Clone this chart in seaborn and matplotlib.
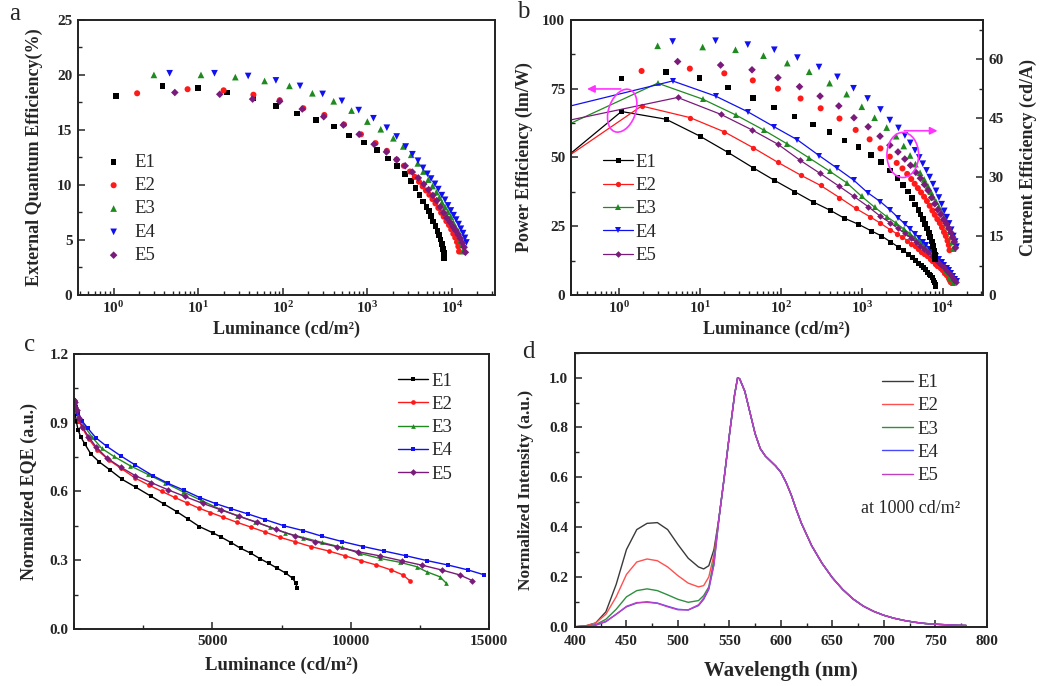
import matplotlib
matplotlib.use("Agg")
import matplotlib.pyplot as plt
import seaborn as sns
import numpy as np
from matplotlib.patches import Ellipse
from matplotlib.ticker import MultipleLocator, NullFormatter, LogLocator

sns.set_style("ticks")
plt.rcParams['font.family'] = ['Liberation Serif', 'DejaVu Serif']
plt.rcParams['mathtext.fontset'] = 'custom'
plt.rcParams['mathtext.rm'] = 'Liberation Serif'
plt.rcParams['mathtext.bf'] = 'Liberation Serif:bold'
plt.rcParams['mathtext.it'] = 'Liberation Serif:italic'

devices = ["E1", "E2", "E3", "E4", "E5"]

# ---------------- device data (luminance cd/m2, EQE %, CE cd/A, PE lm/W) ----------------
lum_E1 = [1.07, 3.8, 9.9, 22, 45, 83, 147, 247, 400, 610, 910, 1290, 1740, 2240, 2770, 3250, 3710,
          4130, 4530, 5010, 5330, 5680, 6020, 6400, 6720, 7030, 7340, 7660, 7900, 8020, 8060]
eqe_E1 = [18.1, 19.0, 18.8, 18.4, 17.85, 17.2, 16.5, 15.9, 15.3, 14.5, 13.85, 13.2, 12.4, 11.74, 11.02,
          10.36, 9.73, 9.10, 8.49, 7.98, 7.6, 7.16, 6.69, 6.27, 5.83, 5.45, 5.04, 4.62, 4.20, 3.80, 3.36]
ce_E1 = [55.1, 56.8, 55.3, 52.8, 50.2, 47.7, 45.4, 43.4, 41.4, 39.3, 37.6, 35.7, 33.9, 31.7, 29.8, 28.0,
         26.3, 24.6, 23.0, 21.6, 20.5, 19.3, 18.1, 16.9, 15.7, 14.7, 13.6, 12.5, 11.3, 10.3, 9.1]
pe_E1 = [66.7, 63.9, 57.8, 51.9, 46.3, 41.7, 37.6, 33.9, 30.9, 27.9, 25.7, 23.4, 21.5, 19.4, 17.6, 16.2,
         15.0, 13.9, 12.8, 11.6, 10.9, 10.1, 9.3, 8.5, 7.8, 7.1, 6.4, 5.6, 4.8, 4.1, 3.4]

lum_E2 = [1.9, 7.5, 20, 45, 92, 175, 310, 530, 840, 1250, 1700, 2220, 2700, 3180, 3640, 4080, 4500,
          4930, 5400, 5880, 6380, 6900, 7440, 7980, 8580, 9210, 9790, 10370, 10930, 11470, 11890, 12130]
eqe_E2 = [18.33, 18.7, 18.6, 18.2, 17.7, 16.97, 16.36, 15.5, 14.6, 13.8, 13.1, 12.3, 11.74, 11.22, 10.73,
          10.29, 9.87, 9.50, 9.11, 8.71, 8.32, 7.91, 7.48, 7.12, 6.71, 6.36, 5.97, 5.57, 5.22, 4.81, 4.41, 3.95]
ce_E2 = [57.0, 57.6, 56.4, 54.6, 52.5, 50.0, 47.5, 44.9, 42.0, 39.6, 37.3, 35.2, 33.6, 32.2, 30.8, 29.5,
         28.3, 27.2, 26.1, 25.0, 23.9, 22.7, 21.5, 20.4, 19.3, 18.3, 17.2, 16.0, 15.0, 13.8, 12.7, 11.4]
pe_E2 = [68.7, 64.5, 59.3, 53.6, 48.2, 43.6, 39.8, 35.4, 31.5, 28.5, 26.1, 23.8, 22.3, 21.0, 19.8, 18.7,
         17.7, 16.8, 15.8, 14.9, 14.0, 13.1, 12.2, 11.4, 10.5, 9.7, 8.9, 8.0, 7.2, 6.3, 5.5, 4.6]

lum_E3 = [3.0, 10.8, 27.5, 61, 120, 224, 400, 650, 1000, 1440, 2030, 2660, 3300, 3950, 4600, 5250, 5900,
          6550, 7100, 7620, 8280, 8950, 9670, 10330, 11050, 11780, 12380, 12740, 13220, 13460]
eqe_E3 = [20.0, 20.0, 19.8, 19.45, 19.0, 18.33, 17.6, 16.76, 15.76, 15.06, 14.24, 13.5, 12.74, 11.96,
          11.22, 10.48, 9.9, 9.34, 8.86, 8.4, 7.98, 7.56, 7.12, 6.6, 6.16, 5.82, 5.44, 5.0, 4.56, 3.98]
ce_E3 = [63.4, 63.1, 62.4, 60.9, 59.0, 56.8, 53.9, 51.1, 47.9, 45.1, 42.6, 40.4, 37.9, 35.5, 33.3, 31.1,
         29.4, 27.7, 26.3, 24.9, 23.7, 22.4, 21.1, 19.6, 18.3, 17.3, 16.1, 14.8, 13.5, 11.8]
pe_E3 = [77.0, 71.2, 65.5, 60.0, 54.9, 49.8, 45.0, 40.8, 35.8, 31.9, 28.5, 26.1, 24.0, 22.3, 20.7, 19.2,
         17.9, 16.6, 15.5, 14.5, 13.3, 12.2, 11.1, 10.0, 8.9, 7.9, 6.9, 6.1, 5.2, 4.3]

lum_E4 = [4.6, 15.6, 39, 83, 160, 296, 500, 790, 1180, 1700, 2220, 2840, 3410, 3970, 4550, 5130, 5670,
          6300, 6900, 7590, 8280, 8980, 9700, 10450, 11210, 11990, 12740, 13520, 14240, 14810]
eqe_E4 = [20.15, 20.15, 19.9, 19.5, 19.0, 18.27, 17.64, 16.8, 16.06, 15.2, 14.4, 13.49, 12.79, 12.2,
          11.55, 11.01, 10.58, 10.1, 9.62, 9.07, 8.65, 8.14, 7.68, 7.25, 6.85, 6.44, 6.02, 5.62, 5.19, 4.77]
ce_E4 = [64.5, 64.7, 63.7, 62.4, 60.4, 58.0, 55.5, 52.6, 50.0, 47.2, 44.5, 42.5, 40.6, 38.7, 36.8, 35.0,
         33.4, 31.7, 30.0, 28.2, 26.5, 24.8, 23.1, 21.4, 19.8, 18.2, 16.6, 15.0, 13.6, 12.3]
pe_E4 = [77.8, 72.3, 66.6, 61.1, 56.4, 50.7, 46.0, 41.8, 37.2, 33.9, 31.0, 28.0, 25.8, 24.0, 22.2, 20.7,
         19.4, 18.0, 16.8, 15.5, 14.3, 13.1, 12.0, 10.9, 9.9, 8.9, 7.9, 6.9, 5.9, 5.0]

lum_E5 = [5.3, 18, 44, 92, 170, 305, 520, 800, 1200, 1680, 2220, 2800, 3400, 4000, 4650, 5300, 5950,
          6600, 7300, 7980, 8700, 9490, 10270, 11050, 11840, 12560, 13300, 13940, 14400]
eqe_E5 = [18.4, 18.24, 17.8, 17.6, 16.9, 16.2, 15.45, 14.6, 13.7, 13.0, 12.3, 11.74, 11.17, 10.64, 10.08,
          9.57, 9.05, 8.57, 8.0, 7.47, 7.01, 6.61, 6.2, 5.87, 5.48, 5.13, 4.73, 4.34, 3.88]
ce_E5 = [59.4, 58.5, 57.3, 55.3, 53.0, 50.6, 48.1, 45.1, 42.8, 40.4, 38.1, 36.4, 34.6, 33.0, 31.2, 29.7,
         28.1, 26.6, 24.8, 23.2, 21.7, 20.5, 19.2, 18.2, 17.0, 15.9, 14.7, 13.5, 12.0]
pe_E5 = [71.8, 65.7, 60.0, 54.8, 49.1, 44.2, 39.6, 35.8, 32.1, 28.7, 26.3, 24.2, 22.4, 20.8, 19.3, 17.9,
         16.6, 15.5, 14.3, 13.2, 12.1, 11.0, 10.0, 9.0, 8.1, 7.2, 6.3, 5.5, 4.8]

# lowest-luminance power-efficiency points (below the plotted range, the lines enter from the left edge)
pe_lead_lum = 0.2
pe_lead = {"E1": 49.0, "E2": 49.0, "E3": 61.0, "E4": 68.0, "E5": 63.0}

# ---------------- EL spectra at 1000 cd/m2 ----------------
wavelength = [400, 410, 420, 430, 440, 450, 460, 470, 480, 490, 500, 510, 520, 525, 530, 535, 540,
              545, 550, 555, 558, 560, 565, 570, 575, 580, 585, 590, 595, 600, 605, 610, 615, 620,
              630, 640, 650, 660, 670, 680, 690, 700, 710, 720, 730, 740, 750, 760, 770, 780]
blue_E1 = [0.0, 0.003, 0.015, 0.06, 0.17, 0.31, 0.39, 0.415, 0.418, 0.39, 0.33, 0.275, 0.24, 0.232, 0.245, 0.31, 0.44]
blue_E2 = [0.0, 0.003, 0.015, 0.05, 0.12, 0.21, 0.26, 0.272, 0.265, 0.24, 0.205, 0.175, 0.16, 0.165, 0.20, 0.29, 0.44]
blue_E3 = [0.0, 0.002, 0.008, 0.03, 0.07, 0.12, 0.145, 0.152, 0.145, 0.128, 0.11, 0.098, 0.105, 0.125, 0.16, 0.27, 0.44]
blue_E4 = [0.0, 0.002, 0.006, 0.02, 0.05, 0.08, 0.095, 0.10, 0.095, 0.082, 0.07, 0.067, 0.085, 0.11, 0.15, 0.25, 0.44]
blue_E5 = [0.0, 0.002, 0.007, 0.022, 0.05, 0.082, 0.097, 0.098, 0.094, 0.08, 0.068, 0.068, 0.088, 0.115, 0.155, 0.25, 0.44]
yellow_band = [0.60, 0.77, 0.93, 1.0, 0.995, 0.945, 0.86, 0.775, 0.715, 0.685, 0.665, 0.645, 0.62, 0.58,
               0.53, 0.47, 0.415, 0.325, 0.255, 0.197, 0.15, 0.112, 0.083, 0.062, 0.046, 0.034, 0.025,
               0.018, 0.013, 0.01, 0.008, 0.006, 0.005]

data = {
    "E1": (lum_E1, eqe_E1, ce_E1, pe_E1, blue_E1),
    "E2": (lum_E2, eqe_E2, ce_E2, pe_E2, blue_E2),
    "E3": (lum_E3, eqe_E3, ce_E3, pe_E3, blue_E3),
    "E4": (lum_E4, eqe_E4, ce_E4, pe_E4, blue_E4),
    "E5": (lum_E5, eqe_E5, ce_E5, pe_E5, blue_E5),
}

colors = {"E1": "#000000", "E2": "#ff1a1a", "E3": "#1f8a1f", "E4": "#1010f0", "E5": "#7a1a7a"}
spec_colors = {"E1": "#3a3a3a", "E2": "#ff5050", "E3": "#2f8f3f", "E4": "#4848ff", "E5": "#c040c0"}
mk_ab = {"E1": "s", "E2": "o", "E3": "^", "E4": "v", "E5": "D"}
mk_c = {"E1": "s", "E2": "o", "E3": "^", "E4": "s", "E5": "D"}
sz_ab = {"E1": 17, "E2": 19, "E3": 23, "E4": 23, "E5": 15}
ms_line = {"E1": 3.6, "E2": 3.8, "E3": 4.2, "E4": 4.2, "E5": 3.4}

TICK_FS = 11
LAB_FS = 13
LEG_FS = 13.5
MAG = "#ff33ff"

fig = plt.figure(figsize=(10.47, 6.86), dpi=100)
axA = fig.add_axes([0.0745, 0.570, 0.398, 0.401])
axB = fig.add_axes([0.5451, 0.570, 0.3935, 0.401])
axC = fig.add_axes([0.0707, 0.0831, 0.3964, 0.401])
axD = fig.add_axes([0.5492, 0.0864, 0.3932, 0.3994])


def frame(ax):
    ax.tick_params(which='both', direction='in', top=False, right=False)
    ax.tick_params(which='major', length=5, width=1.1, pad=4)
    ax.tick_params(which='minor', length=3, width=1.0)
    for sp in ax.spines.values():
        sp.set_visible(True)
        sp.set_linewidth(1.4)
        sp.set_color('#222222')


log_ticks = [1, 10, 100, 1000, 10000]
log_labels = [r'$\mathbf{10^{%d}}$' % i for i in range(5)]

# ---------------- panel a ----------------
for d in devices:
    lum, eqe, ce, pe, _ = data[d]
    sns.scatterplot(x=lum, y=eqe, ax=axA, marker=mk_ab[d], s=sz_ab[d], color=colors[d],
                    edgecolor='none', label=d, zorder=3)
axA.set_xscale('log')
axA.set_xlim(0.38, 3.2e4)
axA.set_ylim(0, 25)
frame(axA)
axA.set_xticks(log_ticks, labels=log_labels, fontsize=TICK_FS)
axA.xaxis.set_minor_locator(LogLocator(base=10, subs=np.arange(2, 10)))
axA.xaxis.set_minor_formatter(NullFormatter())
axA.set_yticks([0, 5, 10, 15, 20, 25], labels=['0', '5', '10', '15', '20', '25'],
               fontsize=TICK_FS, fontweight='bold')
axA.yaxis.set_minor_locator(MultipleLocator(2.5))
axA.set_ylabel('External Quantum Efficiency(%)', fontsize=LAB_FS, fontweight='bold')
axA.set_xlabel('Luminance (cd/m²)', fontsize=LAB_FS, fontweight='bold')
axA.yaxis.set_label_coords(-0.084, 0.5)
axA.xaxis.set_label_coords(0.5, -0.095)
axA.legend(loc='lower left', bbox_to_anchor=(0.045, 0.085), frameon=False, fontsize=LEG_FS,
           handletextpad=0.6, labelspacing=0.33, borderaxespad=0, markerscale=1.0, handlelength=1.0)

# ---------------- panel b ----------------
axB2 = axB.twinx()
for d in devices:
    lum, eqe, ce, pe, _ = data[d]
    lum_line = [pe_lead_lum] + list(lum)
    pe_line = [pe_lead[d]] + list(pe)
    sns.lineplot(x=lum_line, y=pe_line, ax=axB, color=colors[d], marker=mk_ab[d],
                 markersize=ms_line[d], markeredgewidth=0, linewidth=0.9, label=d,
                 sort=False, estimator=None)
    sns.scatterplot(x=lum, y=ce, ax=axB2, marker=mk_ab[d], s=sz_ab[d], color=colors[d],
                    edgecolor='none', zorder=3, legend=False)
for a in (axB, axB2):
    a.set_xscale('log')
    a.set_xlim(0.253, 3.12e4)
axB.set_ylim(0, 100)
axB2.set_ylim(0, 70)
frame(axB)
axB2.tick_params(which='both', direction='in', right=True, left=False, top=False)
axB2.tick_params(which='major', length=5, width=1.1, pad=4)
axB2.tick_params(which='minor', length=3, width=1.0)
for sp in axB2.spines.values():
    sp.set_linewidth(1.4)
    sp.set_color('#222222')
axB.set_xticks(log_ticks, labels=log_labels, fontsize=TICK_FS)
axB.xaxis.set_minor_locator(LogLocator(base=10, subs=np.arange(2, 10)))
axB.xaxis.set_minor_formatter(NullFormatter())
axB.set_yticks([0, 25, 50, 75, 100], labels=['0', '25', '50', '75', '100'],
               fontsize=TICK_FS, fontweight='bold')
axB.yaxis.set_minor_locator(MultipleLocator(12.5))
axB2.set_yticks([0, 15, 30, 45, 60], labels=['0', '15', '30', '45', '60'],
                fontsize=TICK_FS, fontweight='bold')
axB2.yaxis.set_minor_locator(MultipleLocator(7.5))
axB.set_ylabel('Power Efficiency (lm/W)', fontsize=LAB_FS, fontweight='bold')
axB2.set_ylabel('Current Efficiency (cd/A)', fontsize=LAB_FS, fontweight='bold')
axB.set_xlabel('Luminance (cd/m²)', fontsize=LAB_FS, fontweight='bold')
axB.yaxis.set_label_coords(-0.092, 0.5)
axB2.yaxis.set_label_coords(1.09, 0.5)
axB.xaxis.set_label_coords(0.5, -0.095)
axB.legend(loc='lower left', bbox_to_anchor=(0.06, 0.085), frameon=False, fontsize=LEG_FS,
           handletextpad=0.15, labelspacing=0.33, borderaxespad=0, handlelength=1.6)
# annotations: ellipses with arrows
axB2.add_patch(Ellipse((0.125, 0.670), 0.067, 0.158, angle=-10, transform=axB2.transAxes,
                       fill=False, ec=MAG, lw=1.2, zorder=5))
axB2.annotate('', xy=(0.033, 0.749), xytext=(0.128, 0.749), xycoords='axes fraction',
              arrowprops=dict(arrowstyle='-|>', color=MAG, lw=1.2, mutation_scale=11))
axB2.add_patch(Ellipse((0.806, 0.509), 0.077, 0.164, angle=0, transform=axB2.transAxes,
                       fill=False, ec=MAG, lw=1.2, zorder=5))
axB2.annotate('', xy=(0.897, 0.597), xytext=(0.803, 0.597), xycoords='axes fraction',
              arrowprops=dict(arrowstyle='-|>', color=MAG, lw=1.2, mutation_scale=11))

# ---------------- panel c ----------------
for d in devices:
    lum, eqe, ce, pe, _ = data[d]
    eqe_arr = np.array(eqe)
    sns.lineplot(x=lum, y=eqe_arr / eqe_arr.max(), ax=axC, color=colors[d], marker=mk_c[d],
                 markersize=3.4, markeredgewidth=0, linewidth=1.0, label=d, sort=False, estimator=None)
axC.set_xlim(0, 15000)
axC.set_ylim(0, 1.2)
frame(axC)
axC.set_xticks([0, 5000, 10000, 15000], labels=['', '5000', '10000', '15000'],
               fontsize=TICK_FS, fontweight='bold')
axC.xaxis.set_minor_locator(MultipleLocator(2500))
axC.set_yticks([0, 0.3, 0.6, 0.9, 1.2], labels=['0.0', '0.3', '0.6', '0.9', '1.2'],
               fontsize=TICK_FS, fontweight='bold')
axC.yaxis.set_minor_locator(MultipleLocator(0.15))
axC.set_ylabel('Normalized EQE (a.u.)', fontsize=LAB_FS, fontweight='bold')
axC.set_xlabel('Luminance (cd/m²)', fontsize=LAB_FS + 0.5, fontweight='bold')
axC.yaxis.set_label_coords(-0.087, 0.5)
axC.xaxis.set_label_coords(0.5, -0.10)
axC.legend(loc='upper right', bbox_to_anchor=(0.93, 0.96), frameon=False, fontsize=LEG_FS,
           handletextpad=0.2, labelspacing=0.33, borderaxespad=0, handlelength=1.6)

# ---------------- panel d ----------------
for d in devices:
    spec = list(data[d][4]) + list(yellow_band)
    sns.lineplot(x=wavelength, y=spec, ax=axD, color=spec_colors[d], linewidth=1.0, label=d,
                 sort=False, estimator=None)
axD.set_xlim(400, 800)
axD.set_ylim(0, 1.1)
frame(axD)
axD.set_xticks(list(range(400, 801, 50)), labels=[str(v) for v in range(400, 801, 50)],
               fontsize=TICK_FS, fontweight='bold')
axD.xaxis.set_minor_locator(MultipleLocator(25))
axD.set_yticks([0, 0.2, 0.4, 0.6, 0.8, 1.0], labels=['0.0', '0.2', '0.4', '0.6', '0.8', '1.0'],
               fontsize=TICK_FS, fontweight='bold')
axD.yaxis.set_minor_locator(MultipleLocator(0.1))
axD.tick_params(axis='x', pad=6)
axD.tick_params(axis='y', pad=5)
axD.set_ylabel('Normalized Intensity (a.u.)', fontsize=12.5, fontweight='bold')
axD.set_xlabel('Wavelength (nm)', fontsize=15, fontweight='bold')
axD.yaxis.set_label_coords(-0.10, 0.5)
axD.xaxis.set_label_coords(0.5, -0.125)
axD.legend(loc='upper right', bbox_to_anchor=(0.90, 0.95), frameon=False, fontsize=LEG_FS,
           handletextpad=0.2, labelspacing=0.33, borderaxespad=0, handlelength=1.7)
axD.text(0.816, 0.43, 'at 1000 cd/m²', transform=axD.transAxes, ha='center', va='center',
         fontsize=13)

# panel letters
fig.text(15 / 1047, 1 - 14 / 686, 'a', fontsize=18, ha='center', va='center')
fig.text(523 / 1047, 1 - 12 / 686, 'b', fontsize=18, ha='center', va='center')
fig.text(30 / 1047, 1 - 345 / 686, 'c', fontsize=18, ha='center', va='center')
fig.text(528 / 1047, 1 - 352 / 686, 'd', fontsize=18, ha='center', va='center')

fig.savefig('out.png', dpi=100)
